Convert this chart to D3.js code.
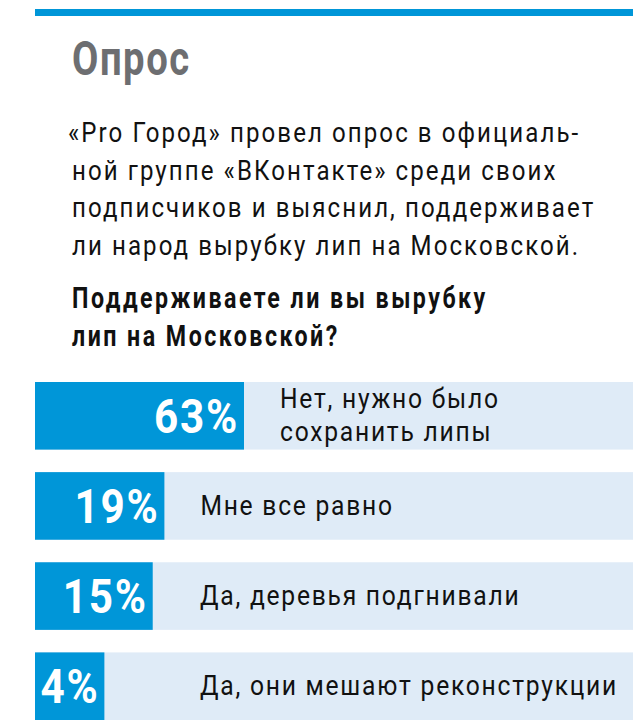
<!DOCTYPE html>
<html>
<head>
<meta charset="utf-8">
<script src="https://cdn.jsdelivr.net/npm/d3@7"></script>
<style>
  html, body { margin: 0; padding: 0; background: #fff; }
  svg { display: block; }
  .narrow { font-family: "Roboto", "Liberation Sans", sans-serif; }
</style>
</head>
<body>
<div id="chart"></div>
<script>
// poll data
const answers = ["Нет, нужно было сохранить липы", "Мне все равно", "Да, деревья подгнивали", "Да, они мешают реконструкции"];
const answerLines = [["Нет, нужно было", "сохранить липы"], ["Мне все равно"], ["Да, деревья подгнивали"], ["Да, они мешают реконструкции"]];
const percents = [63, 19, 15, 4];

const title = "Опрос";
const introLines = [
  "«Pro Город» провел опрос в официаль-",
  "ной группе «ВКонтакте» среди своих",
  "подписчиков и выяснил, поддерживает",
  "ли народ вырубку лип на Московской."
];
const questionLines = ["Поддерживаете ли вы вырубку", "лип на Московской?"];

const width = 633;
const height = 724;
const left = 35;
const blue = "#0096d8";
const pale = "#dfebf7";

// no condensed face installed: squeeze Roboto sideways and open up the tracking
function condense(sel, sx, spacing) {
  sel.attr("transform", function() {
      const tx = +this.getAttribute("x");
      const ty = +this.getAttribute("y");
      return `translate(${tx},${ty}) scale(${sx},1)`;
    })
    .attr("x", 0)
    .attr("y", 0)
    .style("letter-spacing", spacing + "px");
}

const svg = d3.select("#chart")
  .append("svg")
  .attr("width", width)
  .attr("height", height);

// top rule
svg.append("rect")
  .attr("x", left)
  .attr("y", 9)
  .attr("width", width - left)
  .attr("height", 7)
  .attr("fill", blue);

svg.append("text")
  .attr("class", "narrow")
  .attr("x", 72)
  .attr("y", 75)
  .attr("font-size", 49)
  .attr("font-weight", "bold")
  .attr("fill", "#6d6e71")
  .text(title)
  .call(condense, 0.78, 2);

svg.append("g")
  .selectAll("text")
  .data(introLines)
  .enter().append("text")
  .attr("class", "narrow")
  .attr("x", (d, i) => i === 0 ? 68 : 72)
  .attr("y", (d, i) => 142 + i * 37.7)
  .attr("font-size", 28)
  .attr("fill", "#111")
  .text(d => d)
  .call(condense, 0.86, 2.4);

svg.append("g")
  .selectAll("text")
  .data(questionLines)
  .enter().append("text")
  .attr("class", "narrow")
  .attr("x", 72)
  .attr("y", (d, i) => 308 + i * 38)
  .attr("font-size", 29)
  .attr("font-weight", "bold")
  .attr("fill", "#111")
  .text(d => d)
  .call(condense, 0.8, 3.1);

// bars
const y = d3.scaleBand()
  .domain(answers)
  .range([382, 720])
  .paddingInner(0.25);

// the printed bars grow slower than the numbers, a power scale follows them best
const x = d3.scalePow()
  .exponent(0.4)
  .domain([0, d3.max(percents)])
  .range([0, 209]);

const rows = svg.append("g")
  .selectAll("g")
  .data(answers)
  .enter().append("g")
  .attr("transform", d => `translate(0,${y(d)})`);

rows.append("rect")
  .attr("x", left)
  .attr("width", width - left)
  .attr("height", y.bandwidth())
  .attr("fill", pale);

rows.append("rect")
  .attr("x", left)
  .attr("width", (d, i) => x(percents[i]))
  .attr("height", y.bandwidth())
  .attr("fill", blue);

rows.append("text")
  .attr("class", "narrow")
  .attr("x", (d, i) => left + x(percents[i]) - 5)
  .attr("y", y.bandwidth() / 2 + 17)
  .attr("text-anchor", "end")
  .attr("font-size", 48)
  .attr("font-weight", "bold")
  .attr("fill", "#fff")
  .text((d, i) => percents[i] + "%")
  .call(condense, 0.88, 2);

// answer text, wrapped lines kept in one text element
rows.each(function(d, i) {
  const lines = answerLines[i];
  const lx = Math.max(200, left + x(percents[i]) + 36);
  const label = d3.select(this).append("text")
    .attr("class", "narrow")
    .attr("x", lx)
    .attr("y", y.bandwidth() / 2 + 9 - (lines.length - 1) * 16.5)
    .attr("font-size", 28)
    .attr("fill", "#111")
    .call(condense, 0.88, 2);

  label.selectAll("tspan")
    .data(lines)
    .enter().append("tspan")
    .attr("x", 0)
    .attr("dy", (t, j) => j === 0 ? 0 : 33)
    .text(t => t);
});
</script>
</body>
</html>
